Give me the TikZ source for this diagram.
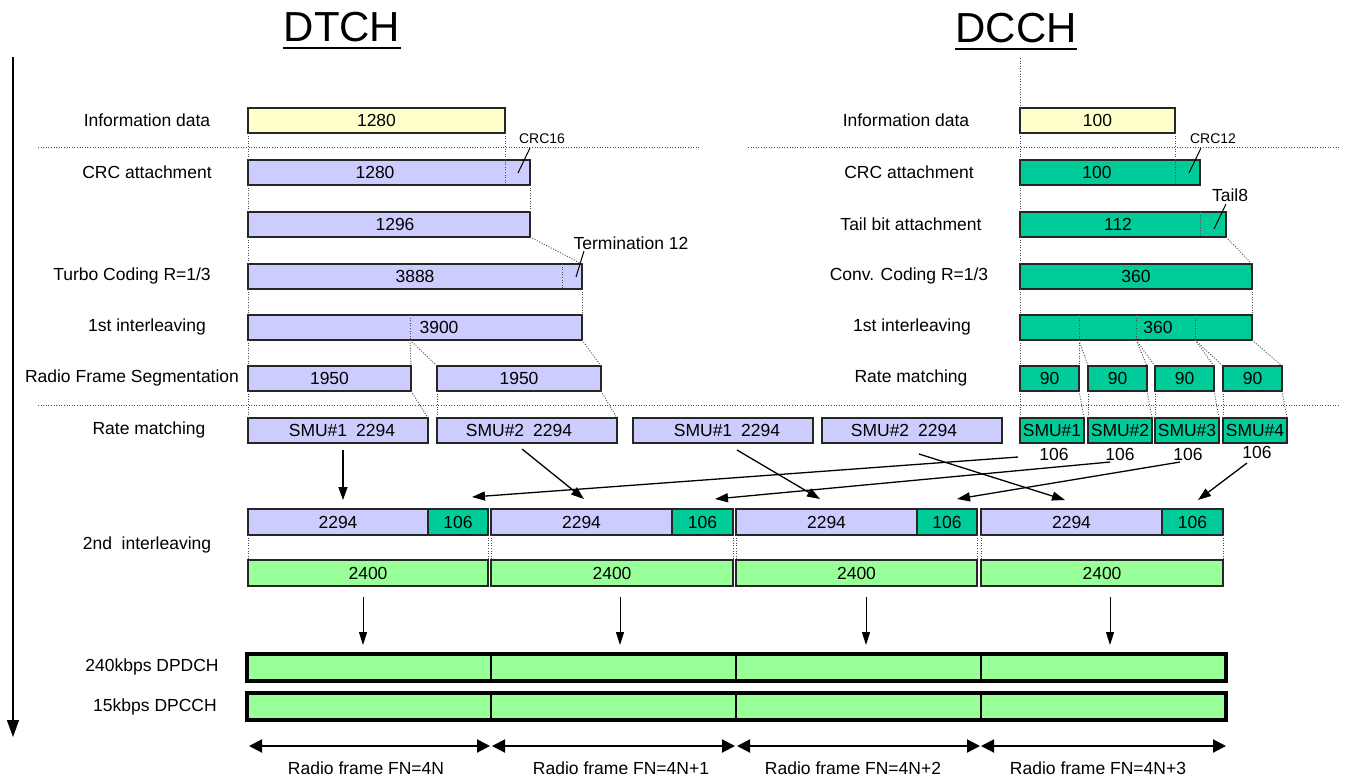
\documentclass[tikz,border=0pt]{standalone}
\usepackage{fontspec}
\setmainfont{Liberation Sans}
\usetikzlibrary{arrows.meta}
\definecolor{cyel}{HTML}{FFFFCC}
\definecolor{clav}{HTML}{CCCCFF}
\definecolor{cteal}{HTML}{00CC99}
\definecolor{cgrn}{HTML}{99FF99}
\newcommand{\bx}[7]{\node[box,fill=#6,minimum width={#4-#2},minimum height={#5-#3}] (#1) at (#2,#3) {#7};}
\begin{document}
\begin{tikzpicture}[x=1pt,y=-1pt,
  font=\fontsize{17.5}{20}\selectfont,
  box/.style={draw=black!85,line width=1.4pt,inner sep=0pt,outer sep=0pt,anchor=north west},
  dotl/.style={draw=black!70,line width=0.9pt,dash pattern=on 1pt off 1.6pt},
  arr/.style={line width=1.3pt,-{Triangle[length=13pt,width=9pt]}},
  darr/.style={line width=1pt,-{Triangle[length=13pt,width=8pt]}},
  rf/.style={line width=2pt,{Triangle[length=13pt,width=13pt]}-{Triangle[length=13pt,width=13pt]}},
  txt/.style={inner sep=0pt},
  small/.style={inner sep=0pt,font=\fontsize{14}{16}\selectfont},
  ttl/.style={inner sep=0pt,anchor=base,font=\fontsize{42}{48}\selectfont}]
\useasboundingbox (0,0) rectangle (1348,780);

% titles
\node[ttl] (tdtch) at (342,41) {DTCH};
\draw[line width=2.5pt] ([yshift=-7pt]tdtch.base west) -- ([yshift=-7pt]tdtch.base east);
\node[ttl] (tdcch) at (1016,42) {DCCH};
\draw[line width=2.5pt] ([yshift=-7pt]tdcch.base west) -- ([yshift=-7pt]tdcch.base east);

% time arrow
\coordinate (ta1) at (13,57);
\coordinate (ta2) at (13,737);
\draw[line width=1.5pt,-{Triangle[length=17pt,width=12pt]}] (ta1) -- (ta2);

% separators
\draw[dotl] (38,147) -- (700,147);
\draw[dotl] (748,147) -- (1340,147);
\draw[dotl] (38,405) -- (1340,405);

% DTCH labels
\node[txt] (l1) at (147,120) {Information data};
\node[txt] (l2) at (147,172) {CRC attachment};
\node[txt] (l3) at (132,276) {Turbo Coding R=1/3};
\node[txt] (l4) at (147,327) {1st interleaving};
\node[txt] (l5) at (132,378) {Radio Frame Segmentation};
\node[txt] (l6) at (149,430) {Rate matching};
\node[txt] (l7) at (147,545) {2nd\ \ interleaving};
\node[txt] (l8) at (152,667) {240kbps DPDCH};
\node[txt] (l9) at (155,707) {15kbps DPCCH};

% DCCH labels
\node[txt] (r1l) at (906,120) {Information data};
\node[txt] (r2l) at (909,172) {CRC attachment};
\node[txt] (r3l) at (911,224) {Tail bit attachment};
\node[txt] (r4l) at (909,276) {Conv. Coding R=1/3};
\node[txt] (r5l) at (912,327) {1st interleaving};
\node[txt] (r6l) at (911,378) {Rate matching};

% DTCH boxes
\bx{i1}{248}{108}{505}{133}{cyel}{1280}
\bx{c1}{248}{160}{530}{185}{clav}{}
\node[txt] (c1t) at (375,172.5) {1280};
\bx{b1}{248}{212}{530}{237}{clav}{}
\node[txt] (b1t) at (395,224.5) {1296};
\bx{t1}{248}{264}{582}{289}{clav}{3888}
\bx{il1}{248}{315}{582}{340}{clav}{}
\node[txt] (il1t) at (439,327.5) {3900};
\bx{s1a}{248}{366}{411}{391}{clav}{1950}
\bx{s1b}{437}{366}{601}{391}{clav}{1950}
\bx{m1}{248}{418}{428}{443}{clav}{}
\bx{m2}{437}{418}{617}{443}{clav}{}
\bx{m3}{633}{418}{813}{443}{clav}{}
\bx{m4}{822}{418}{1002}{443}{clav}{}
\node[txt] (m1t) at (342,430.5) {SMU\#1\hspace{9pt}2294};
\node[txt] (m2t) at (519,430.5) {SMU\#2\hspace{9pt}2294};
\node[txt] (m3t) at (727,430.5) {SMU\#1\hspace{9pt}2294};
\node[txt] (m4t) at (904,430.5) {SMU\#2\hspace{9pt}2294};

% DCCH boxes
\bx{i2}{1020}{108}{1175}{133}{cyel}{100}
\bx{c2}{1020}{160}{1200}{185}{cteal}{}
\node[txt] (c2t) at (1097,172.5) {100};
\bx{t2}{1020}{212}{1226}{237}{cteal}{}
\node[txt] (t2t) at (1118,224.5) {112};
\bx{cc2}{1020}{264}{1252}{289}{cteal}{360}
\bx{il2}{1020}{315}{1252}{340}{cteal}{}
\node[txt] (il2t) at (1158,327.5) {360};
\bx{r1}{1020}{366}{1079}{391}{cteal}{90}
\bx{r2}{1088}{366}{1147}{391}{cteal}{90}
\bx{r3}{1155}{366}{1214}{391}{cteal}{90}
\bx{r4}{1223}{366}{1282}{391}{cteal}{90}
\bx{q1}{1020}{418}{1084}{443}{cteal}{SMU\#1}
\bx{q2}{1088}{418}{1152}{443}{cteal}{SMU\#2}
\bx{q3}{1155}{418}{1219}{443}{cteal}{SMU\#3}
\bx{q4}{1223}{418}{1287}{443}{cteal}{SMU\#4}
\node[txt] (n1) at (1054,454) {106};
\node[txt] (n2) at (1120,454) {106};
\node[txt] (n3) at (1188,454) {106};
\node[txt] (n4) at (1257,452) {106};

% annotations
\node[small] (crc16) at (542,139) {CRC16};
\draw[line width=1pt] (530,148) -- (518,173);
\node[small] (crc12) at (1213,139) {CRC12};
\draw[line width=1pt] (1201,148) -- (1189,173);
\node[txt] (tail8) at (1230,195) {Tail8};
\draw[line width=1pt] (1226,204) -- (1214,229);
\node[txt] (term) at (631,243) {Termination 12};
\draw[line width=1pt] (584,251) -- (576,277);

% 2nd interleaving frames
\bx{f1a}{248}{509}{428}{535}{clav}{2294}
\bx{f1b}{428}{509}{488}{535}{cteal}{106}
\bx{f2a}{491}{509}{672}{535}{clav}{2294}
\bx{f2b}{672}{509}{733}{535}{cteal}{106}
\bx{f3a}{736}{509}{917}{535}{clav}{2294}
\bx{f3b}{917}{509}{977}{535}{cteal}{106}
\bx{f4a}{981}{509}{1162}{535}{clav}{2294}
\bx{f4b}{1162}{509}{1223}{535}{cteal}{106}
\bx{g1}{248}{560}{488}{586}{cgrn}{2400}
\bx{g2}{491}{560}{733}{586}{cgrn}{2400}
\bx{g3}{736}{560}{977}{586}{cgrn}{2400}
\bx{g4}{981}{560}{1223}{586}{cgrn}{2400}

% physical channels
\foreach \n/\a/\b in {1/247/491,2/491/736,3/736/981,4/981/1226}{
  \node[box,fill=cgrn,line width=1.8pt,draw=black,minimum width={\b-\a},minimum height=27] (dp\n) at (\a,654) {};
  \node[box,fill=cgrn,line width=1.8pt,draw=black,minimum width={\b-\a},minimum height=27] (dc\n) at (\a,693) {};
}
\draw[line width=3.2pt] (dp1.north west) rectangle (dp4.south east);
\draw[line width=3.2pt] (dc1.north west) rectangle (dc4.south east);

% dotted connectors DTCH
\draw[dotl] (i1.south west) -- (c1.north west);
\draw[dotl] (i1.south east) -- (i1.south east |- c1.south);
\draw[dotl] (c1.south west) -- (b1.north west);
\draw[dotl] (c1.south east) -- (b1.north east);
\draw[dotl] (b1.south west) -- (t1.north west);
\draw[dotl] (b1.south east) -- (t1.north east);
\draw[dotl] ([xshift=-20pt]t1.north east) -- ([xshift=-20pt]t1.south east);
\draw[dotl] (t1.south west) -- (il1.north west);
\draw[dotl] (t1.south east) -- (il1.north east);
\coordinate (ild) at (410,340);
\draw[dotl] (410,315) -- (ild);
\draw[dotl] (il1.south west) -- (s1a.north west);
\draw[dotl] (ild) -- (s1a.north east);
\draw[dotl] (ild) -- (s1b.north west);
\draw[dotl] (il1.south east) -- (s1b.north east);
\draw[dotl] (s1a.south west) -- (m1.north west);
\draw[dotl] (s1a.south east) -- (m1.north east);
\draw[dotl] (s1b.south west) -- (m2.north west);
\draw[dotl] (s1b.south east) -- (m2.north east);

% dotted connectors DCCH
\coordinate (dtop) at (1020,58);
\draw[dotl] (dtop) -- (i2.north west);
\draw[dotl] (i2.south west) -- (c2.north west);
\draw[dotl] (i2.south east) -- (i2.south east |- c2.south);
\draw[dotl] (c2.south west) -- (t2.north west);
\draw[dotl] (1200,212) -- (1200,237);
\draw[dotl] (t2.south west) -- (cc2.north west);
\draw[dotl] (t2.south east) -- (cc2.north east);
\draw[dotl] (cc2.south west) -- (il2.north west);
\draw[dotl] (cc2.south east) -- (il2.north east);
\coordinate (d1) at (1079,340);
\coordinate (d2) at (1136,340);
\coordinate (d3) at (1195,340);
\draw[dotl] (1079,315) -- (d1);
\draw[dotl] (1136,315) -- (d2);
\draw[dotl] (1195,315) -- (d3);
\draw[dotl] (il2.south west) -- (r1.north west);
\draw[dotl] (d1) -- (r1.north east);
\draw[dotl] (d1) -- (r2.north west);
\draw[dotl] (d2) -- (r2.north east);
\draw[dotl] (d2) -- (r3.north west);
\draw[dotl] (d3) -- (r3.north east);
\draw[dotl] (d3) -- (r4.north west);
\draw[dotl] (il2.south east) -- (r4.north east);
\foreach \k in {1,2,3,4}{
  \draw[dotl] (r\k.south west) -- (q\k.north west);
  \draw[dotl] (r\k.south east) -- (q\k.north east);
}

% dotted 2nd interleaving
\foreach \k in {1,2,3,4}{
  \draw[dotl] (f\k a.south west) -- (g\k.north west);
  \draw[dotl] (f\k b.south east) -- (g\k.north east);
}

% mapping arrows
\coordinate (a1s) at (343,450); \coordinate (a1e) at (343,500);
\coordinate (a2s) at (522,449); \coordinate (a2e) at (584,499);
\coordinate (a3s) at (737,450); \coordinate (a3e) at (820,499);
\coordinate (a4s) at (919,454); \coordinate (a4e) at (1065,500);
\coordinate (b1s) at (1018,457); \coordinate (b1e) at (472,497);
\coordinate (b2s) at (1110,462); \coordinate (b2e) at (715,499);
\coordinate (b3s) at (1180,462); \coordinate (b3e) at (957,499);
\coordinate (b4s) at (1247,463); \coordinate (b4e) at (1198,500);
\foreach \p in {a1,a2,a3,a4,b1,b2,b3,b4}{
  \draw[arr] (\p s) -- (\p e);
}

% down arrows to channels
\foreach \k/\x in {1/363,2/620,3/866,4/1110}{
  \coordinate (ds\k) at (\x,597);
  \coordinate (de\k) at (\x,645);
  \draw[darr] (ds\k) -- (de\k);
}

% radio frame arrows
\foreach \k/\a/\b in {1/249/490,2/492/735,3/737/980,4/981/1226}{
  \coordinate (fa\k) at (\a,746);
  \coordinate (fb\k) at (\b,746);
  \draw[rf] (fa\k) -- (fb\k);
}
\node[txt] (rfl1) at (366,768) {Radio frame FN=4N};
\node[txt] (rfl2) at (621,768) {Radio frame FN=4N+1};
\node[txt] (rfl3) at (853,768) {Radio frame FN=4N+2};
\node[txt] (rfl4) at (1098,768) {Radio frame FN=4N+3};
\end{tikzpicture}
\end{document}
